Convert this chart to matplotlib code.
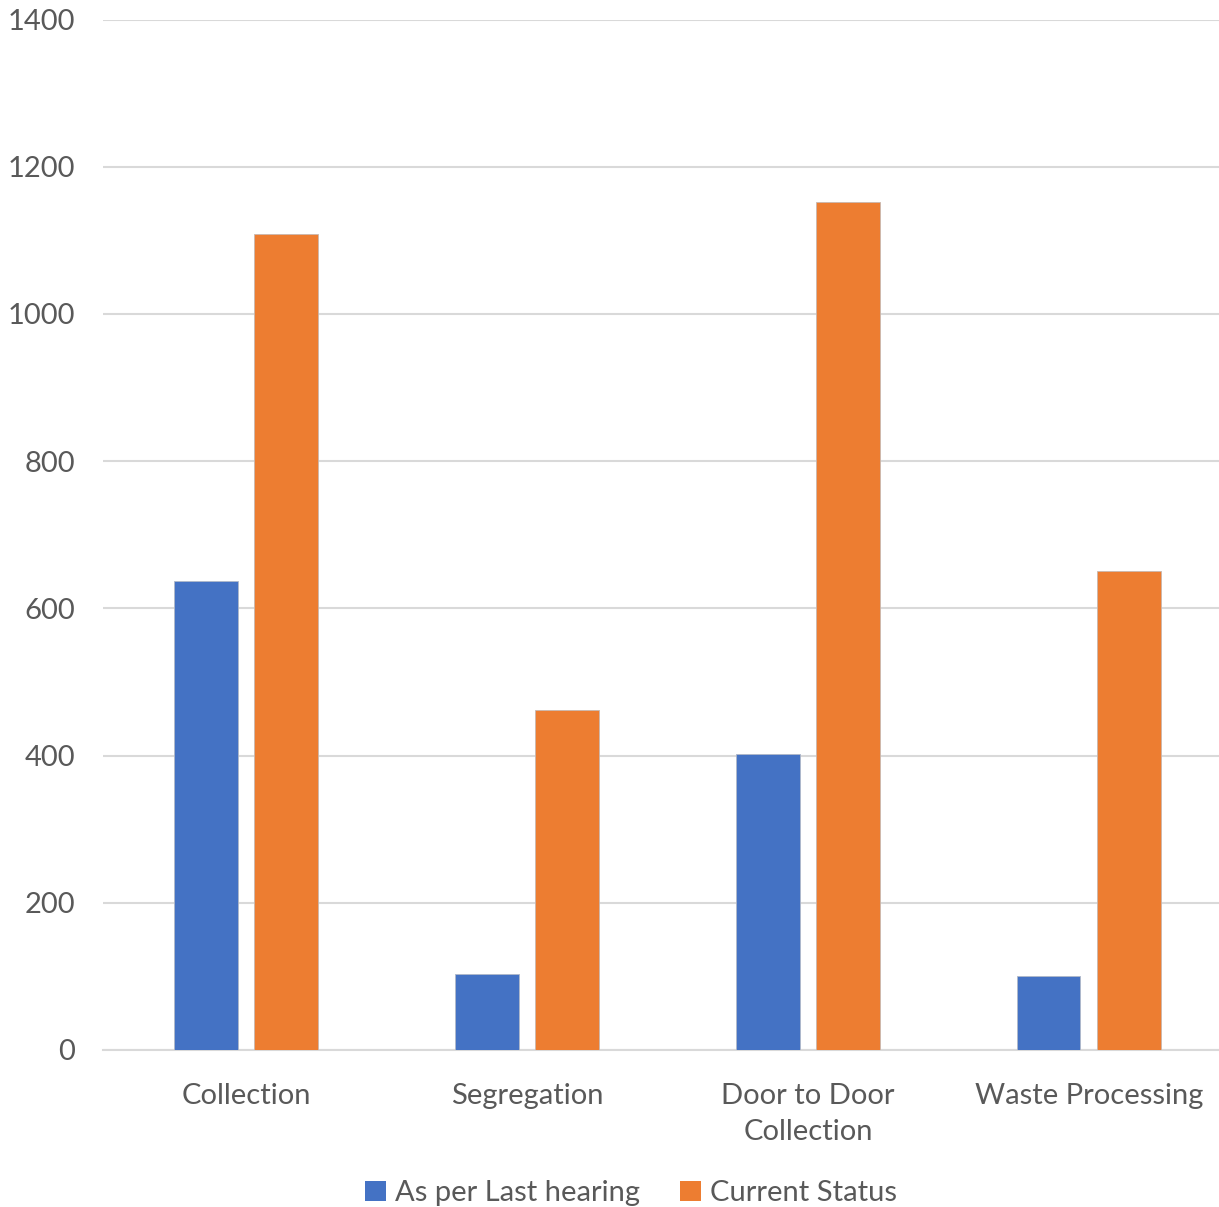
import matplotlib
matplotlib.use("Agg")
import matplotlib.pyplot as plt
import numpy as np
from matplotlib.patches import Patch

categories = ["Collection", "Segregation", "Door to Door\nCollection", "Waste Processing"]
last_hearing = [637, 103, 402, 101]
current_status = [1109, 462, 1152, 651]
series_names = ["As per Last hearing", "Current Status"]
y_ticks = [0, 200, 400, 600, 800, 1000, 1200, 1400]

blue = "#4472C4"
orange = "#ED7D31"
text_gray = "#595959"
grid_gray = "#D9D9D9"

plt.rcParams["font.family"] = ["Lato", "DejaVu Sans"]

W, H = 1219, 1207
fig = plt.figure(figsize=(W / 100, H / 100), dpi=100)
left, right = 103 / W, 1.0
bottom, top = 1 - 1050 / H, 1 - 19.5 / H
ax = fig.add_axes([left, bottom, right - left, top - bottom])

x = np.arange(len(categories))
bw = 0.225
off = 0.1425
ax.bar(x - off, last_hearing, width=bw, color=blue, edgecolor="#B0B8C8", linewidth=0.6, zorder=3)
ax.bar(x + off, current_status, width=bw, color=orange, edgecolor="#C8B8B0", linewidth=0.6, zorder=3)

ax.set_xlim(-0.509, 3.463)
ax.set_ylim(0, 1400)
ax.set_yticks(y_ticks)
ax.set_yticklabels([str(v) for v in y_ticks], fontsize=21, color=text_gray)
ax.set_xticks(x)
ax.set_xticklabels(categories, fontsize=21, color=text_gray, linespacing=1.45)
ax.tick_params(axis="both", length=0)
ax.tick_params(axis="y", pad=20)
ax.tick_params(axis="x", pad=24)

ax.yaxis.grid(True, color=grid_gray, linewidth=1.5, zorder=0)
ax.set_axisbelow(True)
for s in ["top", "right", "left"]:
    ax.spines[s].set_visible(False)
ax.spines["bottom"].set_color(grid_gray)
ax.spines["bottom"].set_linewidth(1.5)

handles = [Patch(facecolor=blue, label=series_names[0]),
           Patch(facecolor=orange, label=series_names[1])]
fig.legend(handles=handles, loc="center", bbox_to_anchor=(631 / W, 1 - 1193 / H),
           ncol=2, frameon=False, fontsize=21, labelcolor=text_gray,
           handlelength=0.7, handleheight=0.7, handletextpad=0.3, columnspacing=1.4)

fig.savefig("out.png", dpi=100, facecolor="white")
